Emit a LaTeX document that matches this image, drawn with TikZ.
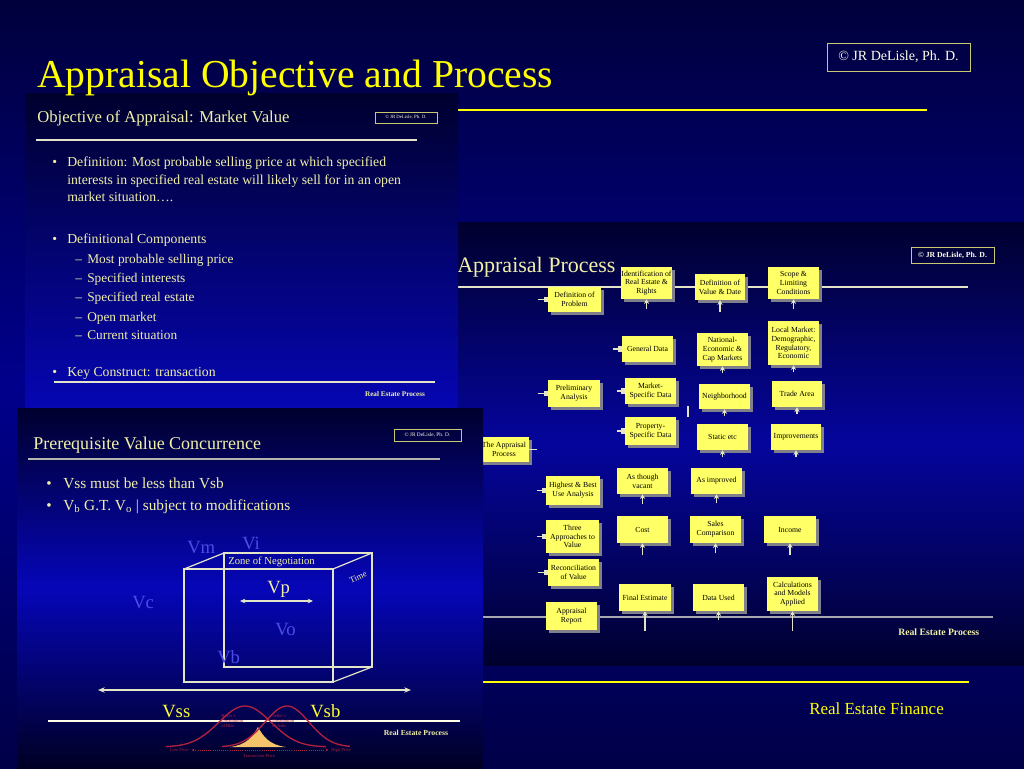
\documentclass[tikz,border=0pt]{standalone}
\usepackage{fontspec}
\setmainfont{Liberation Serif}
\usetikzlibrary{arrows.meta,shadows}
\definecolor{ttlyellow}{HTML}{FFFF00}
\definecolor{cream}{HTML}{F0F0A8}
\definecolor{linecream}{HTML}{E4E4C8}
\definecolor{linegray}{HTML}{A8A8B0}
\definecolor{boxyellow}{HTML}{FFFF66}
\definecolor{vblue}{HTML}{4C4CE8}
\definecolor{bellred}{HTML}{B22040}
\definecolor{overlapfill}{HTML}{F6C46A}
\definecolor{bgtop}{HTML}{00003C}
\definecolor{bgmid}{HTML}{00008C}
\definecolor{bgbot}{HTML}{000048}
\definecolor{pdark}{HTML}{00002E}
\definecolor{pblue}{HTML}{0606B8}
\definecolor{shadowgray}{HTML}{80808C}
\definecolor{cboxline}{HTML}{C8C870}
\tikzset{
  bw/.style 2 args={minimum width=#1*0.75pt, minimum height=#2*0.75pt},
  pbox/.style={rectangle, fill=boxyellow, text=black, align=center, inner sep=0pt,
    font=\fontsize{5.8}{6.6}\selectfont,
    drop shadow={shadow xshift=2pt, shadow yshift=-2pt, fill=shadowgray, opacity=1}},
  stubl/.style={draw=linecream, line width=0.9pt, -{Rectangle[length=2.5pt,width=4pt]}},
  stubup/.style={draw=linecream, line width=0.9pt, -{Stealth[length=3.5pt,width=4pt]}},
  crbox/.style={draw=cboxline, line width=0.6pt, inner sep=0pt, text=white!92!yellow},
  ptext/.style={text=cream, inner sep=0pt, anchor=base west},
  vlab/.style={text=vblue, inner sep=0pt, anchor=base west, font=\fontsize{14}{16}\selectfont},
  cubeedge/.style={draw=linecream, line width=0.9pt},
  tinyred/.style={text=bellred, inner sep=0pt, align=left, font=\fontsize{3.4}{3.9}\selectfont},
}
\begin{document}
\begin{tikzpicture}[x=0.75pt,y=-0.75pt]
\useasboundingbox (0,0) rectangle (1024,768);
\shade[top color=bgtop, bottom color=bgbot, middle color=bgmid] (0,0) rectangle (1024,768);

% main copyright box and rules
\node[crbox, bw={143}{28}, font=\fontsize{10.5}{12}\selectfont] (maincr) at (898.5,57) {© JR DeLisle, Ph. D.};
\coordinate (ruleA1) at (37,110); \coordinate (ruleA2) at (927,110);
\draw[ttlyellow, line width=2.2pt] (ruleA1) -- (ruleA2);

% ================= Panel 2: Appraisal Process =================
\shade[top color=pdark, bottom color=pdark, middle color=pblue!85!black] (440,222) rectangle (1024,665);
\node[ptext, font=\fontsize{16.5}{18}\selectfont] (aptitle) at (457,272) {Appraisal Process};
\node[crbox, bw={83}{16}, font=\fontsize{5.8}{7}\selectfont\bfseries] (apcr) at (952.5,255) {© JR DeLisle, Ph. D.};
\coordinate (apl1) at (440,287); \coordinate (apl2) at (968,287);
\draw[linecream, line width=1.1pt] (apl1) -- (apl2);
\coordinate (apb1) at (440,617); \coordinate (apb2) at (993,617);
\draw[linegray, line width=1.6pt] (apb1) -- (apb2);
\node[ptext, font=\fontsize{7.3}{8}\selectfont\bfseries] (aprep) at (898,635) {Real Estate Process};

\node[pbox, bw={53}{25}] (defp) at (574.5,299.5) {Definition of\\Problem};
\node[pbox, bw={51}{32}] (ident) at (646.5,283) {Identification of\\Real Estate \&\\Rights};
\node[pbox, bw={50}{26}] (defv) at (720,287) {Definition of\\Value \& Date};
\node[pbox, bw={51}{32}] (scope) at (793.5,283) {Scope \&\\Limiting\\Conditions};
\node[pbox, bw={51}{26}] (gen) at (647.5,349) {General Data};
\node[pbox, bw={51}{33}] (natl) at (722.5,349.5) {National-\\Economic \&\\Cap Markets};
\node[pbox, bw={51}{44}] (local) at (793.5,343) {Local Market:\\Demographic,\\Regulatory,\\Economic};
\node[pbox, bw={52}{27}] (prelim) at (574,393.5) {Preliminary\\Analysis};
\node[pbox, bw={51}{26}] (mkt) at (650.5,391) {Market-\\Specific Data};
\node[pbox, bw={51}{25}] (nbhd) at (724.5,396.5) {Neighborhood};
\node[pbox, bw={50}{26}] (trade) at (797,394) {Trade Area};
\node[pbox, bw={51}{28}] (prop) at (650.5,431) {Property-\\Specific Data};
\node[pbox, bw={51}{26}] (static) at (722.5,437) {Static etc};
\node[pbox, bw={50}{26}] (impr) at (796,437) {Improvements};
\node[pbox, bw={50}{25}] (tap) at (504,449.5) {The Appraisal\\Process};
\node[pbox, bw={54}{29}] (hbu) at (573,490.5) {Highest \& Best\\Use Analysis};
\node[pbox, bw={51}{26}] (vac) at (642.5,481) {As though\\vacant};
\node[pbox, bw={51}{26}] (asimp) at (716.5,481) {As improved};
\node[pbox, bw={53}{33}] (three) at (572.5,536.5) {Three\\Approaches to\\Value};
\node[pbox, bw={51}{27}] (cost) at (642.5,529.5) {Cost};
\node[pbox, bw={51}{27}] (sales) at (715.5,529.5) {Sales\\Comparison};
\node[pbox, bw={52}{27}] (income) at (790,529.5) {Income};
\node[pbox, bw={51}{27}] (recon) at (573.5,572.5) {Reconciliation\\of Value};
\node[pbox, bw={52}{27}] (final) at (645,597.5) {Final Estimate};
\node[pbox, bw={51}{27}] (data) at (718.5,597.5) {Data Used};
\node[pbox, bw={51}{34}] (calc) at (792.5,594) {Calculations\\and Models\\Applied};
\node[pbox, bw={51}{28}] (report) at (571.5,616) {Appraisal\\Report};

\foreach \n/\l in {defp/10, prelim/10, gen/9, mkt/8, prop/8, hbu/9, three/9, recon/10}{
  \path (\n.west) ++(-\l,0) coordinate (\n-l);
  \draw[stubl] (\n-l) -- (\n.west);
}
\foreach \n/\l in {ident/10, defv/12, scope/10, natl/7, local/7, nbhd/7, trade/7, static/7, impr/7,
                   vac/10, asimp/9, cost/12, sales/10, income/12, final/20, data/9, calc/20}{
  \path (\n.south) ++(0,\l) coordinate (\n-t);
  \draw[stubup] (\n-t) -- (\n.south);
}
\path (tap.east) ++(8,0) coordinate (tap-r);
\draw[linecream, line width=0.9pt] (tap.east) -- (tap-r);
\coordinate (tk1) at (688,406); \coordinate (tk2) at (688,417);
\draw[linecream, line width=0.8pt] (tk1) -- (tk2);

% main bottom rule
\coordinate (ruleB1) at (40,682); \coordinate (ruleB2) at (969,682);
\draw[ttlyellow, line width=2.2pt] (ruleB1) -- (ruleB2);
\node[text=ttlyellow, inner sep=0pt, anchor=base west, font=\fontsize{12.7}{14}\selectfont] (ref) at (809,714) {Real Estate Finance};

% ================= Panel 1: Objective of Appraisal =================
\shade[top color=pdark, bottom color=pblue] (25,93) rectangle (458,420);
\node[ptext, font=\fontsize{12.5}{14}\selectfont] (p1title) at (37,122) {Objective of Appraisal: Market Value};
\node[crbox, bw={62}{11}, font=\fontsize{3.6}{4}\selectfont] (p1cr) at (406,117.5) {© JR DeLisle, Ph. D.};
\coordinate (p1l1) at (36,140); \coordinate (p1l2) at (417,140);
\draw[linecream, line width=0.8pt] (p1l1) -- (p1l2);
\begin{scope}[every node/.style={ptext, font=\fontsize{10.3}{12}\selectfont}]
\node (b1) at (52,166) {•};
\node (b1a) at (67,166) {Definition: Most probable selling price at which specified};
\node (b1b) at (67,184) {interests in specified real estate will likely sell for in an open};
\node (b1c) at (67,201) {market situation….};
\node (b2) at (52,243) {•};
\node (b2a) at (67,243) {Definitional Components};
\node (b3) at (52,376) {•};
\node (b3a) at (67,376) {Key Construct: transaction};
\end{scope}
\begin{scope}[every node/.style={ptext, font=\fontsize{10}{12}\selectfont}]
\node (d1) at (75,263) {–}; \node (s1) at (87,263) {Most probable selling price};
\node (d2) at (75,282) {–}; \node (s2) at (87,282) {Specified interests};
\node (d3) at (75,301) {–}; \node (s3) at (87,301) {Specified real estate};
\node (d4) at (75,321) {–}; \node (s4) at (87,321) {Open market};
\node (d5) at (75,339) {–}; \node (s5) at (87,339) {Current situation};
\end{scope}
\coordinate (p1f1) at (54,382); \coordinate (p1f2) at (435,382);
\draw[linecream, line width=0.8pt] (p1f1) -- (p1f2);
\node[ptext, anchor=center, font=\fontsize{5.4}{6}\selectfont\bfseries] (p1rep) at (395,394) {Real Estate Process};

% ================= Panel 3: Prerequisite Value Concurrence =================
\shade[top color=pdark, bottom color=pdark!80!black, middle color=pblue] (17,408) rectangle (483,768);
\node[ptext, font=\fontsize{13.5}{15}\selectfont] (p3title) at (33,449) {Prerequisite Value Concurrence};
\node[crbox, bw={67}{12}, font=\fontsize{4}{5}\selectfont] (p3cr) at (427.5,435) {© JR DeLisle, Ph. D.};
\coordinate (p3l1) at (28,459); \coordinate (p3l2) at (440,459);
\draw[linegray!80!cream, line width=0.8pt] (p3l1) -- (p3l2);
\begin{scope}[every node/.style={ptext, font=\fontsize{11.5}{13}\selectfont}]
\node (c1) at (46,488) {•}; \node (c1a) at (63,488) {Vss must be less than Vsb};
\node (c2) at (46,510) {•}; \node (c2a) at (63,510) {V\textsubscript{b} G.T. V\textsubscript{o} | subject to modifications};
\end{scope}
% cube
\draw[cubeedge] (184,569) rectangle (333,682);
\draw[cubeedge] (224,553) rectangle (372,667);
\draw[cubeedge] (184,569) -- (224,553);
\draw[cubeedge] (333,569) -- (372,553);
\draw[cubeedge] (333,682) -- (372,667);
\node[ptext, font=\fontsize{8}{9}\selectfont] (zone) at (228,564) {Zone of Negotiation};
\node[ptext, anchor=center, rotate=25, font=\fontsize{6.5}{7}\selectfont] (time) at (358,577) {Time};
\node[vlab] (vm) at (187,553) {Vm};
\node[vlab] (vi) at (242,549) {Vi};
\node[vlab] (vc) at (132,608) {Vc};
\node[vlab] (vo) at (275,635) {Vo};
\node[vlab] (vb) at (217,663) {Vb};
\node[ptext, font=\fontsize{14}{16}\selectfont] (vp) at (267,593) {Vp};
\coordinate (vpa) at (240,601); \coordinate (vpb) at (313,601);
\draw[linecream, line width=0.8pt, {Stealth[length=4pt,width=3.5pt]}-{Stealth[length=4pt,width=3.5pt]}] (vpa) -- (vpb);
\coordinate (la) at (98,690); \coordinate (lb) at (411,690);
\draw[linecream, line width=0.8pt, {Stealth[length=5pt,width=4pt]}-{Stealth[length=5pt,width=4pt]}] (la) -- (lb);
\node[ptext, font=\fontsize{14}{16}\selectfont, text=ttlyellow!80!white] (vss) at (162,717) {Vss};
\node[ptext, font=\fontsize{14}{16}\selectfont, text=ttlyellow!80!white] (vsb) at (310,717) {Vsb};
\coordinate (p3f1) at (48,721); \coordinate (p3f2) at (460,721);
\draw[white!90!yellow, line width=0.8pt] (p3f1) -- (p3f2);
\node[ptext, anchor=center, font=\fontsize{5.8}{6}\selectfont\bfseries] (p3rep) at (416,733) {Real Estate Process};
% bells
\fill[overlapfill] (230,747) .. controls (247,745) and (253,736) .. (258,727) .. controls (263,736) and (269,745) .. (286,747) -- cycle;
\draw[bellred, line width=1pt, domain=166:326, samples=60, smooth] plot (\x, {747-41*exp(-((\x-245)^2)/(2*26^2))});
\draw[bellred, line width=1pt, domain=222:350, samples=60, smooth] plot (\x, {747-41*exp(-((\x-287)^2)/(2*22^2))});
\node[tinyred, anchor=north west] (buyer) at (221,714) {Buyer's\\Distribution\\of Bids};
\node[tinyred, anchor=north west] (seller) at (272,714) {Seller's\\Distribution\\of Asks};
\node[tinyred, anchor=east] (lowp) at (189,750) {Low Price};
\node[tinyred, anchor=west] (highp) at (331,750) {High Price};
\draw[bellred, line width=0.6pt, densely dotted, shorten <=2pt, shorten >=2pt, {Stealth[length=2pt,width=2pt]}-{Stealth[length=2pt,width=2pt]}] (lowp.east) -- (highp.west);
\node[tinyred, anchor=center] (scale) at (259,756) {Transaction Price};

% main title on top
\node[text=ttlyellow, inner sep=0pt, anchor=base west, font=\fontsize{29.7}{34}\selectfont] (title) at (37,87) {Appraisal Objective and Process};
\end{tikzpicture}
\end{document}
